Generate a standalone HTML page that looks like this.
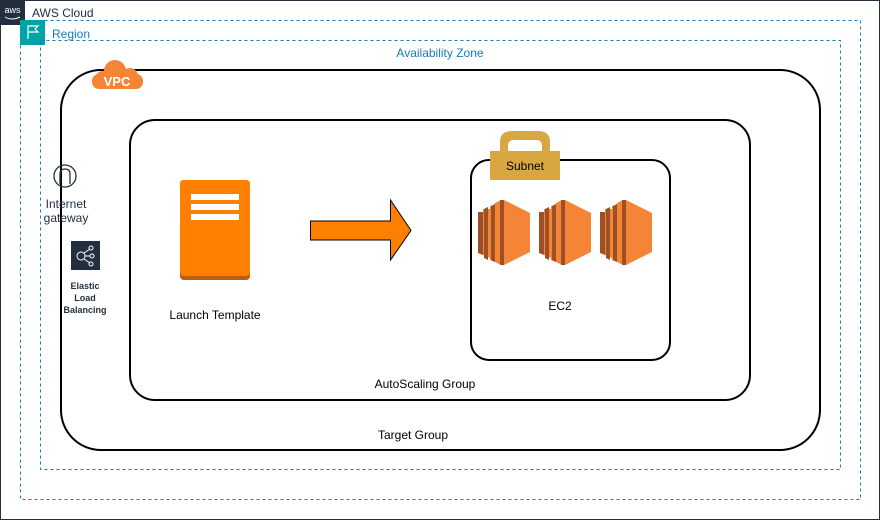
<!DOCTYPE html>
<html><head><meta charset="utf-8"><style>
html,body{margin:0;padding:0;background:#fff;}
svg{display:block;font-family:"Liberation Sans",sans-serif;}
</style></head><body>
<svg width="881" height="521" viewBox="0 0 881 521" xmlns="http://www.w3.org/2000/svg">
<rect x="0.5" y="0.5" width="879" height="519" fill="#fff" stroke="#232F3E" stroke-width="1"/>
<rect x="0" y="0" width="25" height="25" fill="#232F3E"/>
<text x="12.5" y="13" font-size="9" fill="#fff" text-anchor="middle">aws</text>
<path d="M5 17 Q12 21 20 17" stroke="#fff" fill="none" stroke-width="1"/>
<text x="32" y="17" font-size="12" fill="#232F3E">AWS Cloud</text>
<rect x="20.5" y="20.5" width="840" height="479" fill="none" stroke="#147EBA" stroke-dasharray="3,3"/>
<rect x="20" y="20" width="25" height="25" fill="#00A4A6"/>
<path d="M28 39 V26 H38 L35 29 L38 32 H28" stroke="#fff" fill="none" stroke-width="1.2"/>
<text x="52" y="38" font-size="12" fill="#147EBA">Region</text>
<rect x="40.5" y="40.5" width="800" height="429" fill="none" stroke="#147EBA" stroke-dasharray="3,3"/>
<text x="440" y="57" font-size="12" fill="#147EBA" text-anchor="middle">Availability Zone</text>
<rect x="61" y="70" width="759" height="380" rx="40" fill="none" stroke="#000" stroke-width="2"/>
<g fill="#F58536">
<circle cx="103" cy="79" r="8"/><circle cx="115" cy="71" r="11"/><circle cx="130" cy="76" r="8"/><circle cx="136" cy="82" r="6"/>
<rect x="92" y="74" width="51" height="15" rx="7"/>
</g>
<text x="117" y="86" font-size="13" fill="#fff" text-anchor="middle" font-weight="bold">VPC</text>
<rect x="130" y="120" width="620" height="280" rx="25" fill="none" stroke="#000" stroke-width="2"/>
<rect x="471" y="160" width="199" height="200" rx="18" fill="none" stroke="#000" stroke-width="2"/>
<path d="M500 155 V142 Q500 131 512 131 H538 Q550 131 550 142 V155 H542 V146 Q542 140 536 140 H514 Q508 140 508 146 V155Z" fill="#D9A741"/>
<rect x="490" y="151" width="70" height="29" fill="#D9A741"/>
<text x="525" y="170" font-size="12" fill="#000" text-anchor="middle">Subnet</text>
<g id="ec2">
<polygon points="478,212 483,212 483,255 478,253" fill="#9D5025"/>
<polygon points="483,209 490,209 490,258 483,255" fill="#F58536"/>
<polygon points="484,209 488,207 488,260 484,258" fill="#9D5025"/>
<polygon points="490,206 495,206 495,262 490,260" fill="#F58536"/>
<polygon points="491,206 495,204 495,262 491,260" fill="#9D5025"/>
<polygon points="495,203 501,200 501,265 495,262" fill="#F58536"/>
<polygon points="500,200 504,200 504,265 500,265" fill="#9D5025"/>
<polygon points="504,200 530,213 530,252 504,265" fill="#F58536"/>
</g>
<use href="#ec2" x="61"/>
<use href="#ec2" x="122"/>
<text x="560" y="310" font-size="12" fill="#000" text-anchor="middle">EC2</text>
<rect x="180" y="180" width="70" height="100" rx="4" fill="#B85F0F"/>
<rect x="180" y="180" width="70" height="96" rx="4" fill="#FF8000"/>
<rect x="191" y="194" width="48" height="6" fill="#fff"/>
<rect x="191" y="204" width="48" height="6" fill="#fff"/>
<rect x="191" y="214" width="48" height="6" fill="#fff"/>
<text x="215" y="319" font-size="12" fill="#000" text-anchor="middle">Launch Template</text>
<polygon points="310.5,221 390.5,221 390.5,200 411,230.5 390.5,260 390.5,240 310.5,240" fill="#FF8000" stroke="#000" stroke-width="1"/>
<circle cx="65" cy="176" r="11" fill="none" stroke="#232F3E" stroke-width="1.3"/>
<path d="M60 184 V174 Q60 169 65 169 Q70 169 70 174 V184" fill="none" stroke="#232F3E" stroke-width="1.3"/>
<text x="66" y="208" font-size="12" fill="#232F3E" text-anchor="middle">Internet</text>
<text x="66" y="222" font-size="12" fill="#232F3E" text-anchor="middle">gateway</text>
<rect x="71" y="241" width="29" height="29" fill="#232F3E"/>
<circle cx="81" cy="256" r="4" fill="none" stroke="#fff"/>
<path d="M85 256 H90 M84 253 L90 249 M84 259 L90 263" stroke="#fff" fill="none"/>
<circle cx="91" cy="248" r="2" fill="none" stroke="#fff"/><circle cx="92" cy="256" r="2" fill="none" stroke="#fff"/><circle cx="91" cy="264" r="2" fill="none" stroke="#fff"/>
<text x="85" y="289" font-size="9" font-weight="bold" fill="#232F3E" text-anchor="middle">Elastic</text>
<text x="85" y="301" font-size="9" font-weight="bold" fill="#232F3E" text-anchor="middle">Load</text>
<text x="85" y="313" font-size="9" font-weight="bold" fill="#232F3E" text-anchor="middle">Balancing</text>
<text x="425" y="388" font-size="12" fill="#000" text-anchor="middle">AutoScaling Group</text>
<text x="413" y="439" font-size="12" fill="#000" text-anchor="middle">Target Group</text>
</svg>
</body></html>
